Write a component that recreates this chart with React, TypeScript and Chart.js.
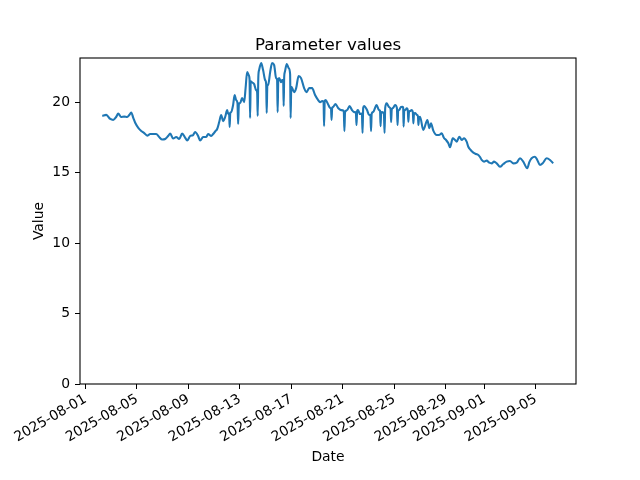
import React, { useEffect, useRef } from 'react';
import { Chart, registerables } from 'chart.js';

Chart.register(...registerables);

// Days elapsed since 2025-08-01 00:00
const dayOffsets = [
  1.30, 1.61, 1.92, 2.15, 2.38, 2.54, 2.77, 3.01, 3.24, 3.40,
  3.55, 3.71, 3.86, 4.10, 4.33, 4.56, 4.79, 5.03, 5.49, 5.72,
  5.96, 6.19, 6.42, 6.58, 6.81, 7.05, 7.28, 7.51, 7.74, 7.90,
  8.13, 8.36, 8.52, 8.75, 8.91, 9.14, 9.38, 9.53, 9.77, 9.92,
  10.07, 10.23, 10.39, 10.54, 10.70, 10.85, 11.01, 11.09, 11.16, 11.20,
  11.25, 11.32, 11.47, 11.59, 11.71, 11.81, 11.86, 11.92, 12.02, 12.17,
  12.33, 12.44, 12.56, 12.68, 12.75, 12.79, 12.84, 12.91, 13.10, 13.26,
  13.34, 13.38, 13.43, 13.49, 13.65, 13.80, 13.96, 14.04, 14.08, 14.13,
  14.19, 14.35, 14.50, 14.66, 14.81, 14.89, 14.93, 14.98, 15.05, 15.20,
  15.28, 15.36, 15.40, 15.44, 15.49, 15.64, 15.79, 15.90, 15.94, 15.99,
  16.06, 16.21, 16.37, 16.56, 16.75, 16.99, 17.18, 17.38, 17.61, 17.84,
  18.08, 18.23, 18.39, 18.50, 18.54, 18.59, 18.66, 18.85, 19.01, 19.08,
  19.12, 19.17, 19.24, 19.43, 19.63, 19.86, 20.07, 20.12, 20.17, 20.33,
  20.52, 20.71, 20.87, 21.01, 21.06, 21.11, 21.18, 21.33, 21.48, 21.53,
  21.58, 21.65, 21.88, 22.04, 22.14, 22.19, 22.24, 22.35, 22.62, 22.81,
  22.89, 22.93, 22.98, 23.05, 23.19, 23.24, 23.29, 23.40, 23.59, 23.71,
  23.75, 23.80, 23.90, 24.06, 24.20, 24.25, 24.30, 24.37, 24.52, 24.65,
  24.69, 24.72, 24.77, 24.83, 24.97, 25.05, 25.09, 25.14, 25.22, 25.35,
  25.44, 25.48, 25.53, 25.61, 25.77, 25.84, 25.87, 25.92, 26.00, 26.25,
  26.57, 26.72, 26.85, 27.03, 27.29, 27.47, 27.68, 27.86, 28.02, 28.20,
  28.33, 28.54, 28.72, 28.85, 29.05, 29.24, 29.42, 29.62, 29.75, 29.93,
  30.14, 30.35, 30.53, 30.66, 30.79, 30.97, 31.18, 31.38, 31.57, 31.75,
  31.96, 32.21, 32.47, 32.73, 32.99, 33.25, 33.51, 33.77, 34.02, 34.33,
  34.50, 34.67, 34.93, 35.11, 35.32, 35.53, 35.84, 36.10, 36.35,
];

const values = [
  19.04, 19.11, 18.82, 18.75, 18.96, 19.20, 18.96, 18.99, 18.96, 19.10,
  19.28, 18.90, 18.55, 18.19, 17.97, 17.82, 17.64, 17.75, 17.75, 17.54,
  17.36, 17.40, 17.61, 17.78, 17.43, 17.54, 17.40, 17.78, 17.50, 17.29,
  17.61, 17.68, 17.89, 17.61, 17.29, 17.54, 17.54, 17.75, 17.61, 17.75,
  17.93, 18.11, 18.60, 19.10, 18.67, 18.96, 19.45, 19.17, 19.20, 18.25,
  19.25, 19.31, 19.81, 20.52, 20.16, 19.95, 18.46, 19.90, 19.95, 20.31,
  20.02, 21.01, 22.15, 21.94, 21.60, 18.89, 21.50, 21.44, 21.30, 20.87,
  20.70, 19.03, 21.80, 22.29, 22.79, 22.29, 21.58, 21.30, 19.24, 21.20,
  21.23, 22.15, 22.79, 22.65, 21.72, 21.60, 19.31, 21.60, 21.72, 21.44,
  21.58, 21.60, 19.74, 21.80, 22.15, 22.72, 22.43, 22.00, 18.89, 21.10,
  21.01, 20.73, 21.01, 21.87, 21.72, 21.01, 20.73, 21.01, 21.01, 20.52,
  20.16, 20.02, 20.09, 20.05, 18.31, 20.10, 20.16, 19.87, 19.60, 19.55,
  18.75, 19.60, 19.67, 19.88, 19.60, 19.45, 19.40, 17.96, 19.30, 19.45,
  19.74, 19.45, 19.31, 19.30, 18.39, 19.40, 19.45, 19.17, 19.20, 17.82,
  19.60, 19.74, 19.45, 19.10, 19.10, 17.96, 19.20, 19.31, 19.81, 19.45,
  19.40, 18.31, 19.30, 19.31, 19.20, 17.82, 19.60, 19.93, 19.67, 19.50,
  18.60, 19.50, 19.60, 19.81, 19.60, 18.39, 19.40, 19.45, 19.67, 19.69,
  19.60, 18.28, 19.40, 19.45, 19.57, 19.40, 18.62, 19.30, 19.38, 19.45,
  19.30, 18.51, 19.20, 19.24, 19.10, 19.00, 18.39, 18.90, 18.98, 18.04,
  18.74, 18.16, 18.51, 17.99, 17.68, 17.68, 17.80, 17.47, 17.33, 17.09,
  16.81, 17.45, 17.33, 17.21, 17.56, 17.33, 17.45, 17.21, 16.85, 16.62,
  16.43, 16.33, 16.26, 16.12, 15.91, 15.79, 15.86, 15.72, 15.67, 15.79,
  15.67, 15.43, 15.62, 15.79, 15.84, 15.67, 15.72, 16.03, 15.79, 15.32,
  15.77, 16.03, 16.14, 15.91, 15.55, 15.67, 16.03, 15.91, 15.67,
];

const tickDays = [0, 4, 8, 12, 16, 20, 24, 28, 31, 35];
const tickLabels = [
  '2025-08-01', '2025-08-05', '2025-08-09', '2025-08-13', '2025-08-17',
  '2025-08-21', '2025-08-25', '2025-08-29', '2025-09-01', '2025-09-05',
];
const yTickValues = [0, 5, 10, 15, 20];

const titleText = 'Parameter values';
const xLabelText = 'Date';
const yLabelText = 'Value';

const FONT = '"DejaVu Sans", sans-serif';

const decorPlugin = {
  id: 'decor',
  afterDraw(chart: any) {
    const { ctx, chartArea: a } = chart;
    ctx.save();
    ctx.strokeStyle = '#000';
    ctx.lineWidth = 1.1;
    ctx.strokeRect(a.left, a.top, a.right - a.left, a.bottom - a.top);
    ctx.fillStyle = '#000';
    ctx.textAlign = 'center';
    ctx.textBaseline = 'alphabetic';
    ctx.font = `16.67px ${FONT}`;
    ctx.fillText(titleText, (a.left + a.right) / 2, a.top - 8.5);
    ctx.font = `13.9px ${FONT}`;
    ctx.textBaseline = 'middle';
    ctx.fillText(xLabelText, (a.left + a.right) / 2, 457);
    ctx.translate(39, (a.top + a.bottom) / 2);
    ctx.rotate(-Math.PI / 2);
    ctx.fillText(yLabelText, 0, 0);
    ctx.restore();
  },
};

export default function App() {
  const canvasRef = useRef<HTMLCanvasElement | null>(null);

  useEffect(() => {
    const canvas = canvasRef.current;
    if (!canvas) return;
    const points = dayOffsets.map((d, i) => ({ x: d, y: values[i] }));
    const chart = new Chart(canvas, {
      type: 'line',
      data: {
        datasets: [
          {
            data: points,
            borderColor: '#1f77b4',
            borderWidth: 2.1,
            pointRadius: 0,
            fill: false,
            cubicInterpolationMode: 'monotone',
          },
        ],
      },
      options: {
        animation: false,
        responsive: false,
        devicePixelRatio: 1,
        layout: { padding: { top: 58, right: 64, left: 0, bottom: 0 } },
        plugins: {
          legend: { display: false },
          title: { display: false },
          tooltip: { enabled: false },
        },
        scales: {
          x: {
            type: 'linear',
            min: -0.43,
            max: 38.12,
            afterFit: (s: any) => {
              s.height = 96;
            },
            afterBuildTicks: (s: any) => {
              s.ticks = tickDays.map((v) => ({ value: v }));
            },
            border: { display: false },
            grid: {
              drawOnChartArea: false,
              drawTicks: true,
              tickLength: 5,
              color: '#000',
              tickWidth: 1,
            },
            ticks: {
              autoSkip: false,
              minRotation: 30,
              maxRotation: 30,
              padding: 2,
              color: '#000',
              font: { family: FONT, size: 13.9 },
              callback: (v: any) => {
                const i = tickDays.indexOf(Number(v));
                return i >= 0 ? tickLabels[i] : '';
              },
            },
          },
          y: {
            type: 'linear',
            min: 0,
            max: 23.15,
            afterFit: (s: any) => {
              s.width = 80;
            },
            afterBuildTicks: (s: any) => {
              s.ticks = yTickValues.map((v) => ({ value: v }));
            },
            border: { display: false },
            grid: {
              drawOnChartArea: false,
              drawTicks: true,
              tickLength: 5,
              color: '#000',
              tickWidth: 1,
            },
            ticks: {
              padding: 5,
              color: '#000',
              font: { family: FONT, size: 13.9 },
            },
          },
        },
      },
      plugins: [decorPlugin],
    } as any);
    return () => {
      chart.destroy();
    };
  }, []);

  return (
    <div style={{ position: 'absolute', left: 0, top: 0, width: 640, height: 480, background: '#fff' }}>
      <canvas ref={canvasRef} width={640} height={480} />
    </div>
  );
}
